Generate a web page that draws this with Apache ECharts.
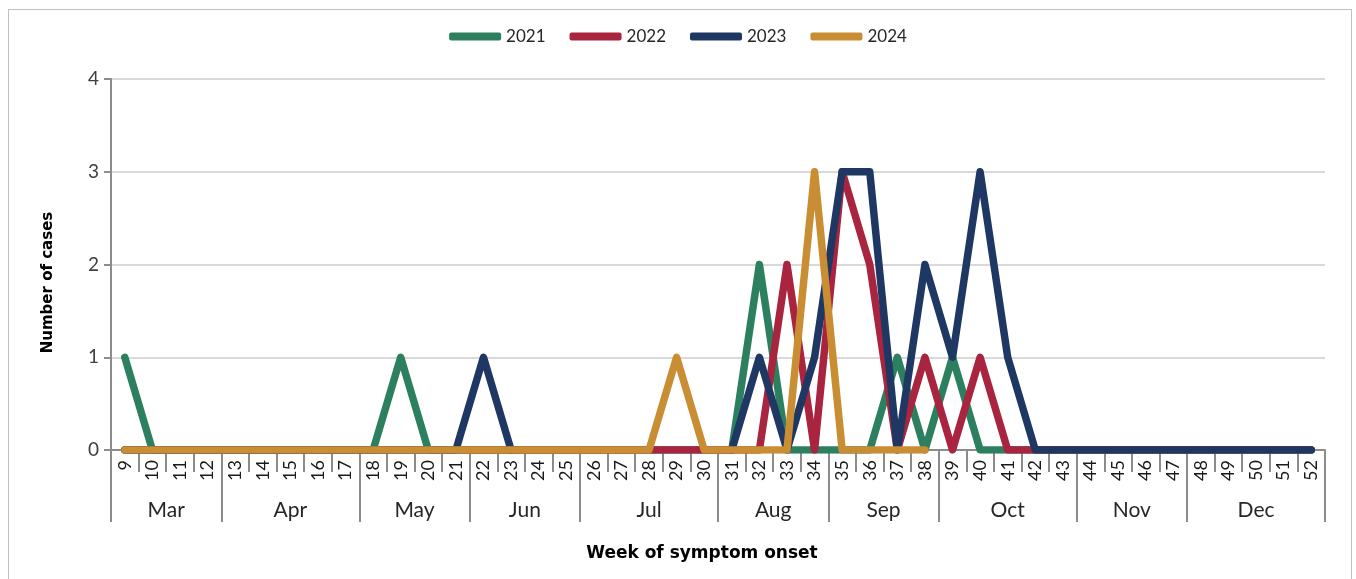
<!DOCTYPE html>
<html>
<head>
<meta charset="utf-8">
<script src="https://cdn.jsdelivr.net/npm/echarts@6/dist/echarts.min.js"></script>
<style>
  html, body { margin: 0; padding: 0; background: #fff; }
  #chart { position: absolute; left: 0; top: 0; width: 1356px; height: 579px; }
  #frame { position: absolute; left: 8px; top: 9px; width: 1344px; height: 600px; border: 1px solid #bfbfbf; box-sizing: border-box; pointer-events: none; }
</style>
</head>
<body>
<div id="chart"></div>
<div id="frame"></div>
<script>
// ---- data ----
var weeks = [9,10,11,12,13,14,15,16,17,18,19,20,21,22,23,24,25,26,27,28,29,30,31,32,33,34,35,36,37,38,39,40,41,42,43,44,45,46,47,48,49,50,51,52];
var monthNames = ['Mar','Apr','May','Jun','Jul','Aug','Sep','Oct','Nov','Dec'];
var monthStartWeeks = [9,13,18,22,26,31,35,39,44,48];
var lastWeek = 52;
var yTicks = [0,1,2,3,4];
var seriesNames = ['2021','2022','2023','2024'];
//            9 10 11 12 13 14 15 16 17 18 19 20 21 22 23 24 25 26 27 28 29 30 31 32 33 34 35 36 37 38 39 40 41 42 43 44 45 46 47 48 49 50 51 52
var cases2021 = [1, 0, 0, 0, 0, 0, 0, 0, 0, 0, 1, 0, 0, 0, 0, 0, 0, 0, 0, 0, 0, 0, 0, 2, 0, 0, 0, 0, 1, 0, 1, 0, 0, 0, 0, 0, 0, 0, 0, 0, 0, 0, 0, 0];
var cases2022 = [0, 0, 0, 0, 0, 0, 0, 0, 0, 0, 0, 0, 0, 0, 0, 0, 0, 0, 0, 0, 0, 0, 0, 0, 2, 0, 3, 2, 0, 1, 0, 1, 0, 0, 0, 0, 0, 0, 0, 0, 0, 0, 0, 0];
var cases2023 = [0, 0, 0, 0, 0, 0, 0, 0, 0, 0, 0, 0, 0, 1, 0, null, null, null, null, null, null, null, 0, 1, 0, 1, 3, 3, 0, 2, 1, 3, 1, 0, 0, 0, 0, 0, 0, 0, 0, 0, 0, 0];
var cases2024 = [0, 0, 0, 0, 0, 0, 0, 0, 0, 0, 0, 0, 0, 0, 0, 0, 0, 0, 0, 0, 1, 0, 0, 0, 0, 3, 0, 0, 0, 0, null, null, null, null, null, null, null, null, null, null, null, null, null, null];
var colors = ['#2c7f5f', '#a8243f', '#1f3763', '#c98e33'];

// ---- month axis scaffolding (half-week positions) ----
var firstEdge = weeks[0] - 0.5, lastEdge = lastWeek + 0.5;
var halfPos = [];
for (var p = firstEdge; p <= lastEdge + 1e-9; p += 0.5) halfPos.push(p);
var boundaries = monthStartWeeks.map(function (w) { return w - 0.5; }).concat([lastEdge]);
var centers = {};
monthStartWeeks.forEach(function (w, i) {
  var end = (i + 1 < monthStartWeeks.length ? monthStartWeeks[i + 1] - 1 : lastWeek);
  centers[((w + end) / 2).toFixed(1)] = monthNames[i];
});
function isBoundary(v) { return boundaries.some(function (b) { return Math.abs(b - v) < 1e-6; }); }

var chart = echarts.init(document.getElementById('chart'), null, { renderer: 'canvas' });
var FONT = 'Lato';
var BOLD = 'DejaVu Sans';
var allData = [cases2021, cases2022, cases2023, cases2024];

chart.setOption({
  animation: false,
  color: colors,
  legend: {
    top: 23,
    left: 'center',
    itemWidth: 52,
    itemHeight: 8,
    itemGap: 24,
    icon: 'roundRect',
    textStyle: { fontFamily: FONT, fontSize: 17, color: '#262626' },
    data: seriesNames
  },
  grid: { left: 111, right: 31, top: 79, bottom: 129, containLabel: false },
  xAxis: [
    {
      type: 'category',
      data: weeks.map(String),
      boundaryGap: true,
      axisLine: { show: true, lineStyle: { color: '#8c8c8c', width: 2 } },
      axisTick: { show: true, interval: 0, length: 22, lineStyle: { color: '#8c8c8c', width: 2 } },
      axisLabel: { interval: 0, rotate: 90, margin: 10, fontFamily: FONT, fontSize: 18, color: '#1a1a1a' },
      splitLine: { show: false }
    },
    {
      type: 'category',
      data: halfPos.map(function (v) { return v.toFixed(1); }),
      boundaryGap: false,
      position: 'bottom',
      axisLine: { show: false },
      axisTick: {
        show: true,
        length: 72,
        interval: function (idx, val) { return isBoundary(parseFloat(val)); },
        lineStyle: { color: '#8c8c8c', width: 2 }
      },
      axisLabel: {
        interval: function (idx, val) { return centers[val] !== undefined; },
        formatter: function (val) { return centers[val] || ''; },
        margin: 50,
        fontFamily: FONT, fontSize: 21, color: '#262626'
      },
      name: 'Week of symptom onset',
      nameLocation: 'middle',
      nameGap: 95,
      nameTextStyle: { fontFamily: BOLD, fontSize: 17, fontWeight: 'bold', color: '#000', padding: [0, 32, 0, 0] },
      splitLine: { show: false }
    }
  ],
  yAxis: {
    type: 'value',
    min: yTicks[0],
    max: yTicks[yTicks.length - 1],
    interval: 1,
    axisLine: { show: true, lineStyle: { color: '#8c8c8c', width: 2 } },
    axisTick: { show: true, length: 7, lineStyle: { color: '#8c8c8c', width: 2 } },
    axisLabel: { margin: 12, fontFamily: FONT, fontSize: 19, color: '#404040' },
    splitLine: { show: true, lineStyle: { color: '#d9d9d9', width: 2 } },
    name: 'Number of cases',
    nameLocation: 'middle',
    nameRotate: 90,
    nameGap: 55,
    nameTextStyle: { fontFamily: BOLD, fontSize: 15, fontWeight: 'bold', color: '#000', padding: [0, 36, 0, 0] }
  },
  series: seriesNames.map(function (name, i) {
    return {
      name: name,
      type: 'line',
      xAxisIndex: 0,
      data: allData[i],
      symbol: 'none',
      showSymbol: false,
      connectNulls: false,
      z: 2 + i,
      lineStyle: { width: 7.5, color: colors[i], cap: 'round', join: 'round' },
      itemStyle: { color: colors[i] }
    };
  })
});
</script>
</body>
</html>
